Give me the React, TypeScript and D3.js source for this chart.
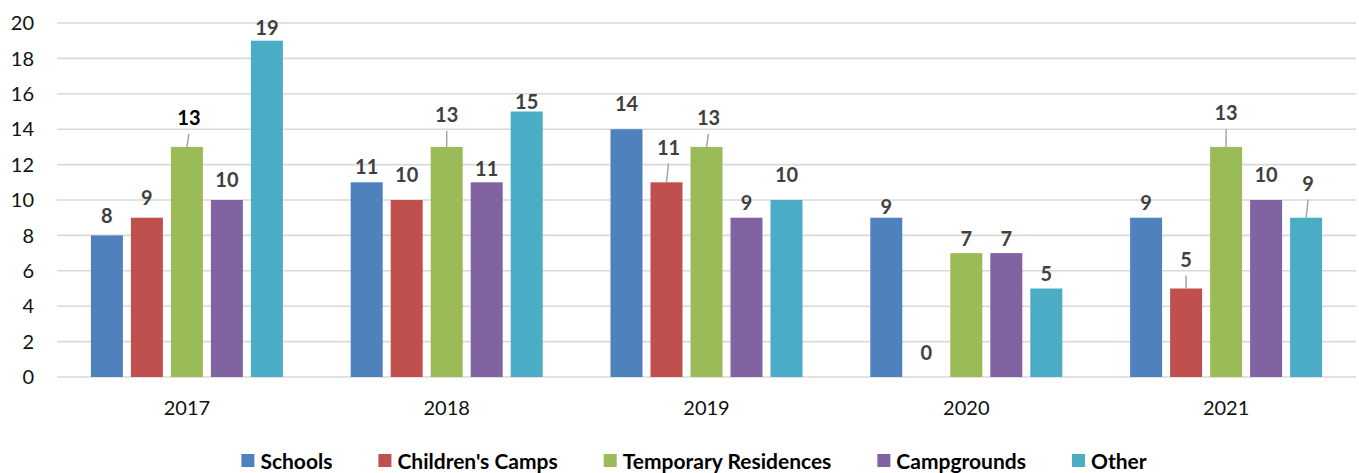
import React, { useEffect, useRef } from "react";
import * as d3 from "d3";

const years = ["2017", "2018", "2019", "2020", "2021"];
const seriesNames = ["Schools", "Children's Camps", "Temporary Residences", "Campgrounds", "Other"];
const schools = [8, 11, 14, 9, 9];
const childrensCamps = [9, 10, 11, 0, 5];
const temporaryResidences = [13, 13, 13, 7, 13];
const campgrounds = [10, 11, 9, 7, 10];
const other = [19, 15, 10, 5, 9];
const yTicks = [0, 2, 4, 6, 8, 10, 12, 14, 16, 18, 20];

const colors = ["#4F81BD", "#C0504D", "#9BBB59", "#8064A2", "#4BACC6"];

// how far (px) each data label sits above its bar, and a small sideways nudge
const labelLift = [
  [20, 16, 25, 11, 15],
  [20, 25, 35, 24, 29],
  [29, 32, 29, 14, 34],
  [20, 14, 15, 14, 25],
  [13, 10, 25, 15, 34],
];
const labelNudge = [
  [0, 0, 0, 0, 0],
  [0, 0, 2, 0, 0],
  [2, 0, 2, 0, 0],
  [0, 0, 0, 0, 0],
  [0, 0, 0, 0, 2],
];

const W = 1359, H = 473;
const margin = { top: 23, right: 3, bottom: 96, left: 57 };
const font = "Lato, 'Open Sans', sans-serif";

function App() {
  const legendRef = useRef<SVGGElement>(null);
  const allSeries = [schools, childrensCamps, temporaryResidences, campgrounds, other];

  const x = d3.scaleBand().domain(years).range([margin.left, W - margin.right]);
  const y = d3.scaleLinear().domain([0, 20]).range([H - margin.bottom, margin.top]);
  const barW = 32, step = 40;
  const groupW = step * (seriesNames.length - 1) + barW;

  useEffect(() => {
    const g = d3.select(legendRef.current);
    g.selectAll("*").remove();
    const items = g.selectAll("g").data(seriesNames).join("g");
    items.append("rect").attr("width", 13).attr("height", 13).attr("y", -7)
      .attr("fill", (_d, i) => colors[i]);
    items.append("text").attr("x", 19).attr("dy", "0.36em")
      .attr("font-family", font).attr("font-size", 21).attr("font-weight", 700)
      .attr("fill", "#000").text(d => d);
    let offset = 0;
    const widths: number[] = [];
    items.each(function () {
      const t = (this as SVGGElement).querySelector("text") as SVGTextElement;
      widths.push(19 + t.getComputedTextLength());
    });
    const gap = 46;
    const total = d3.sum(widths) + gap * (widths.length - 1);
    const start = 694 - total / 2;
    items.attr("transform", (_d, i) => {
      const tx = start + offset;
      offset += widths[i] + gap;
      return `translate(${tx},461)`;
    });
  }, []);

  return (
    <svg width={W} height={H} style={{ position: "absolute", left: 0, top: 0, background: "#fff" }}>
      {yTicks.map(t => (
        <g key={t}>
          <line x1={margin.left} x2={W - margin.right} y1={y(t)} y2={y(t)} stroke="#d9d9d9" strokeWidth={1.6} />
          <text x={34} y={y(t)} dy="0.36em" textAnchor="end" fontFamily={font} fontSize={20} fill="#111">{t}</text>
        </g>
      ))}
      {years.map((yr, yi) => {
        const x0 = (x(yr) as number) + (x.bandwidth() - groupW) / 2;
        return (
          <g key={yr}>
            {allSeries.map((vals, si) => {
              const v = vals[yi];
              const bx = x0 + si * step;
              const cx = bx + barW / 2;
              const top = y(v);
              const ly = top - labelLift[si][yi];
              const lx = cx + labelNudge[si][yi];
              const leader = labelLift[si][yi] > 26;
              return (
                <g key={si}>
                  {v > 0 && <rect x={bx} y={top} width={barW} height={y(0) - top} fill={colors[si]} />}
                  {leader && <line x1={cx} y1={top} x2={lx} y2={ly + 16} stroke="#a6a6a6" strokeWidth={1.5} />}
                  <text x={lx} y={ly} dy="0.36em" textAnchor="middle" fontFamily={font} fontSize={20} fontWeight={700}
                    fill={si === 2 && yi === 0 ? "#000" : "#404040"}>{v}</text>
                </g>
              );
            })}
            <text x={(x(yr) as number) + x.bandwidth() / 2} y={408} dy="0.36em" textAnchor="middle" fontFamily={font} fontSize={20} fill="#111">{yr}</text>
          </g>
        );
      })}
      <g ref={legendRef} />
    </svg>
  );
}

export default App;
